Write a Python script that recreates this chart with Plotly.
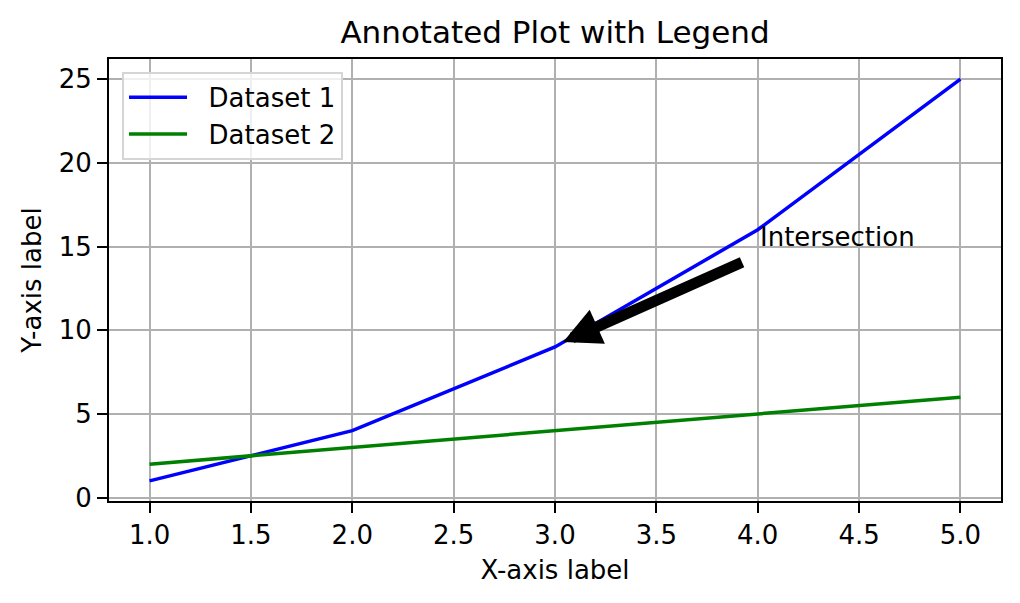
import plotly.graph_objects as go

# data
x = [1, 2, 3, 4, 5]
y1 = [1, 4, 9, 16, 25]
y2 = [2, 3, 4, 5, 6]

# annotation: text position and arrow ends (matplotlib shrinks the arrow 5%)
note_text = "Intersection"
note_xy = (4, 15)
arrow_tip = (3.04, 9.3)
arrow_tail = (3.93, 14.1)

FONT = "DejaVu Sans"

fig = go.Figure()
fig.add_trace(go.Scatter(x=x, y=y1, mode="lines", name="&nbsp;&nbsp;Dataset 1",
                         line=dict(color="blue", width=3.5)))
fig.add_trace(go.Scatter(x=x, y=y2, mode="lines", name="&nbsp;&nbsp;Dataset 2",
                         line=dict(color="green", width=3.5)))

fig.add_annotation(x=arrow_tip[0], y=arrow_tip[1], ax=arrow_tail[0], ay=arrow_tail[1],
                   xref="x", yref="y", axref="x", ayref="y", text="",
                   showarrow=True, arrowhead=2, arrowwidth=11, arrowsize=0.68,
                   arrowcolor="black", standoff=0, startstandoff=0)
fig.add_annotation(x=note_xy[0], y=note_xy[1], xref="x", yref="y", text=note_text,
                   showarrow=False, xanchor="left", yanchor="bottom", yshift=-7,
                   font=dict(size=26, color="black"))

axis_style = dict(showline=True, linecolor="black", linewidth=2, mirror=True,
                  showgrid=True, gridcolor="#b0b0b0", gridwidth=2, zeroline=False,
                  ticks="outside", ticklen=10, tickwidth=2, tickcolor="black",
                  tickfont=dict(size=26, color="black"))

fig.update_xaxes(range=[0.8, 5.2], tickmode="array",
                 tickvals=[1, 1.5, 2, 2.5, 3, 3.5, 4, 4.5, 5], tickformat=".1f",
                 title=dict(text="X-axis label", font=dict(size=26, color="black"), standoff=12),
                 **axis_style)
fig.update_yaxes(range=[-0.2, 26.2], tickmode="array", tickvals=[0, 5, 10, 15, 20, 25],
                 title=dict(text="Y-axis label", font=dict(size=26, color="black"), standoff=10),
                 **axis_style)

# the page body has an 8px margin, so the figure is 8px smaller and shifted
fig.update_layout(
    width=1012, height=595,
    margin=dict(l=101, r=19, t=51, b=102),
    paper_bgcolor="white", plot_bgcolor="white",
    font=dict(family=FONT, color="black"),
    title=dict(text="Annotated Plot with Legend", x=0.5405, xanchor="center",
               y=0.96, yanchor="middle", font=dict(size=31, color="black")),
    legend=dict(x=0.0146, y=0.971, xanchor="left", yanchor="top",
                bgcolor="rgba(255,255,255,0.8)", bordercolor="#d5d5d5", borderwidth=2,
                font=dict(size=26, color="black"), itemwidth=58),
    showlegend=True,
)

fig.write_html("out.html")
